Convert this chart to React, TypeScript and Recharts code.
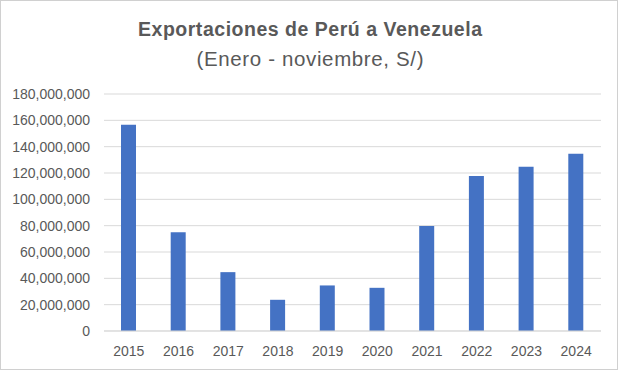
import React from 'react';
import { BarChart, Bar, XAxis, YAxis, CartesianGrid } from 'recharts';

const years = ['2015', '2016', '2017', '2018', '2019', '2020', '2021', '2022', '2023', '2024'];
const exportsValues = [156600000, 75000000, 44700000, 23700000, 34600000, 32800000, 79800000, 117700000, 124800000, 134600000];
const yTicks = [0, 20000000, 40000000, 60000000, 80000000, 100000000, 120000000, 140000000, 160000000, 180000000];

const data = years.map((y, i) => ({ year: y, value: exportsValues[i] }));

const fmt = (v: number) => v.toLocaleString('en-US');

export default function App() {
  return (
    <div style={{ position: 'absolute', left: 0, top: 0, width: 620, height: 372, background: '#fff', fontFamily: 'Liberation Sans, Arial, sans-serif' }}>
      <BarChart
        width={620}
        height={372}
        data={data}
        margin={{ top: 94, right: 19, bottom: 11, left: 0 }}
        barSize={15}
      >
        <text x={310} y={36} textAnchor="middle" fontSize={19.5} fontWeight="bold" fill="#595959" textLength={344} fontFamily="Liberation Sans, Arial, sans-serif">
          Exportaciones de Perú a Venezuela
        </text>
        <text x={310} y={66} textAnchor="middle" fontSize={20.5} fill="#595959" textLength={227} fontFamily="Liberation Sans, Arial, sans-serif">
          (Enero - noviembre, S/)
        </text>
        <CartesianGrid vertical={false} stroke="#d9d9d9" strokeWidth={1} />
        <XAxis
          dataKey="year"
          axisLine={{ stroke: '#d9d9d9' }}
          tickLine={false}
          tickSize={0}
          tickMargin={15}
          height={30}
          tick={{ fill: '#595959', fontSize: 14, fontFamily: 'Liberation Sans, Arial, sans-serif' }}
        />
        <YAxis
          domain={[0, 180000000]}
          ticks={yTicks}
          tickFormatter={fmt}
          axisLine={false}
          tickLine={false}
          tickSize={0}
          tickMargin={14}
          width={104}
          interval={0}
          tick={{ fill: '#595959', fontSize: 14, fontFamily: 'Liberation Sans, Arial, sans-serif' }}
        />
        <Bar dataKey="value" fill="#4472C4" isAnimationActive={false} />
      </BarChart>
      <div style={{ position: 'absolute', left: 0, top: 0, width: 618, height: 370, border: '1px solid #d0d0d0', boxSizing: 'border-box', pointerEvents: 'none' }} />
    </div>
  );
}
